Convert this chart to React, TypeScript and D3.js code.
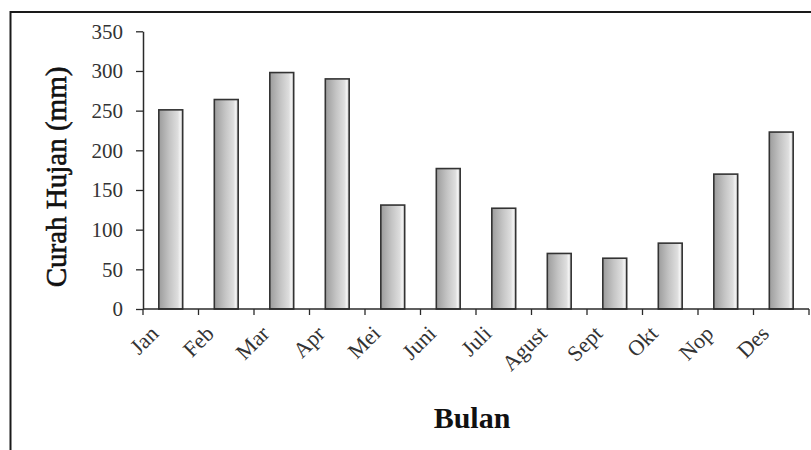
import React, { useEffect, useRef } from 'react';
import * as d3 from 'd3';

const months = ['Jan', 'Feb', 'Mar', 'Apr', 'Mei', 'Juni', 'Juli', 'Agust', 'Sept', 'Okt', 'Nop', 'Des'];
const rainfall = [251, 264, 298, 290, 131, 177, 127, 70, 64, 83, 170, 223];
const yTicks = [0, 50, 100, 150, 200, 250, 300, 350];

const W = 811;
const H = 450;

const App: React.FC = () => {
    const svgRef = useRef<SVGSVGElement>(null);

    useEffect(() => {
        if (!svgRef.current) return;
        const svg = d3.select(svgRef.current);
        svg.selectAll('*').remove();

        const left = 143;
        const right = 809;
        const top = 31.3;
        const bottom = 309;
        const font = '"Liberation Serif", "Times New Roman", serif';
        const ink = '#2a2a2a';

        // bar shading
        const grad = svg.append('defs').append('linearGradient')
            .attr('id', 'barFill')
            .attr('x1', '0%').attr('x2', '100%')
            .attr('y1', '0%').attr('y2', '0%');
        [
            ['0%', '#9c9c9c'],
            ['45%', '#c4c4c4'],
            ['80%', '#dedede'],
            ['90%', '#f4f4f4'],
            ['100%', '#c0c0c0']
        ].forEach(([o, c]) => grad.append('stop').attr('offset', o).attr('stop-color', c));

        // outer frame (runs past the right and bottom edges)
        svg.append('rect')
            .attr('x', 10.5).attr('y', 12)
            .attr('width', W + 20).attr('height', H + 20)
            .attr('fill', 'white')
            .attr('stroke', '#1a1a1a')
            .attr('stroke-width', 2);

        const x = d3.scaleBand<string>()
            .domain(months)
            .range([left, right])
            .paddingInner(0.57)
            .paddingOuter(0.285);

        const y = d3.scaleLinear()
            .domain([0, 350])
            .range([bottom, top]);

        // bars
        svg.append('g').selectAll('rect')
            .data(months)
            .enter()
            .append('rect')
            .attr('x', d => x(d)!)
            .attr('y', (d, i) => y(rainfall[i]))
            .attr('width', x.bandwidth())
            .attr('height', (d, i) => y(0) - y(rainfall[i]))
            .attr('fill', 'url(#barFill)')
            .attr('stroke', '#333')
            .attr('stroke-width', 1.6);

        // y axis
        const yAxis = svg.append('g')
            .attr('transform', `translate(${left},0)`)
            .call(d3.axisLeft(y).tickValues(yTicks).tickSize(7).tickPadding(13).tickSizeOuter(0));
        yAxis.select('.domain').attr('stroke', ink).attr('stroke-width', 1.5);
        yAxis.selectAll('.tick line').attr('stroke', ink).attr('stroke-width', 1.3);
        yAxis.selectAll('.tick text')
            .attr('font-family', font)
            .attr('font-size', 21)
            .attr('fill', '#333');

        // x axis with ticks at category boundaries
        const step = x.step();
        const boundaries = d3.range(months.length + 1).map(i => left + i * step);
        const xAxis = svg.append('g');
        xAxis.append('line')
            .attr('x1', left).attr('x2', right)
            .attr('y1', bottom).attr('y2', bottom)
            .attr('stroke', ink).attr('stroke-width', 1.5);
        xAxis.selectAll('line.tick')
            .data(boundaries)
            .enter()
            .append('line')
            .attr('class', 'tick')
            .attr('x1', d => d).attr('x2', d => d)
            .attr('y1', bottom).attr('y2', bottom + 6)
            .attr('stroke', ink).attr('stroke-width', 1.3);
        xAxis.selectAll('text')
            .data(months)
            .enter()
            .append('text')
            .attr('transform', d => `translate(${x(d)! + x.bandwidth() / 2 - 11},${bottom + 26}) rotate(-45)`)
            .attr('text-anchor', 'end')
            .attr('font-family', font)
            .attr('font-size', 22)
            .attr('fill', '#333')
            .text(d => d);

        // axis titles
        svg.append('text')
            .attr('transform', `translate(${66},${177}) rotate(-90)`)
            .attr('text-anchor', 'middle')
            .attr('font-family', font)
            .attr('font-size', 29)
            .attr('fill', '#111')
            .attr('stroke', '#111')
            .attr('stroke-width', 0.6)
            .text('Curah Hujan (mm)');

        svg.append('text')
            .attr('x', 472)
            .attr('y', 428)
            .attr('text-anchor', 'middle')
            .attr('font-family', font)
            .attr('font-size', 30)
            .attr('font-weight', 'bold')
            .attr('fill', '#111')
            .text('Bulan');
    }, []);

    return (
        <svg
            ref={svgRef}
            width={W}
            height={H}
            style={{ position: 'absolute', left: 0, top: 0, background: 'white' }}
        />
    );
};

export default App;
